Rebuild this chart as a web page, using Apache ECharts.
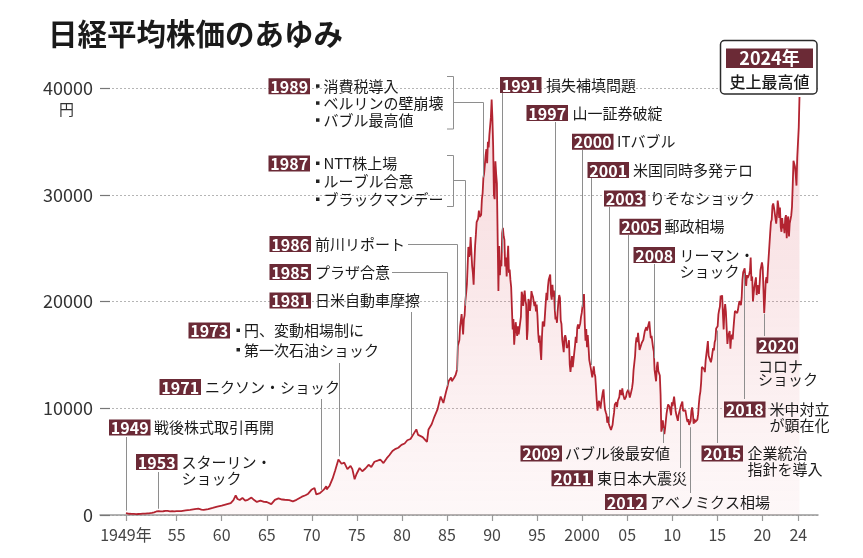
<!DOCTYPE html>
<html><head><meta charset="utf-8">
<script src="https://cdn.jsdelivr.net/npm/echarts@6/dist/echarts.min.js"></script>
<style>html,body{margin:0;padding:0;background:#fff}#c{width:863px;height:558px}</style>
</head><body><div id="c"></div>
<script>
// ---- data ----
const tickYears = [1949.37,1955,1960,1965,1970,1975,1980,1985,1990,1995,2000,2005,2010,2015,2020,2024];
const tickLabels = ['1949年','55','60','65','70','75','80','85','90','95','2000','05','10','15','20','24'];
const yTicks = [0,10000,20000,30000,40000];

const early = [[1949.37,176],[1949.5,140],[1949.75,115],[1950.0,109],[1950.25,100],[1950.5,88],[1950.75,95],[1951.0,101],[1951.25,120],[1951.5,135],[1951.75,160],[1952.0,166],[1952.25,200],[1952.5,250],[1952.75,330],[1953.0,362],[1953.17,474],[1953.25,340],[1953.5,350],[1953.75,380],[1954.0,378],[1954.25,340],[1954.5,350],[1954.75,330],[1955.0,362],[1955.5,370],[1956.0,425],[1956.5,480],[1957.0,550],[1957.4,590],[1957.75,500],[1958.0,475],[1958.5,560],[1959.0,666],[1959.5,780],[1960.0,874],[1960.5,1000],[1961.0,1117],[1961.3,1400],[1961.55,1829],[1961.75,1500],[1962.0,1400],[1962.3,1600],[1962.6,1350],[1962.9,1420],[1963.3,1634],[1963.6,1400],[1963.9,1225],[1964.3,1350],[1964.7,1230],[1965.0,1216],[1965.5,1020],[1965.9,1417],[1966.3,1560],[1966.7,1450],[1967.0,1430],[1967.5,1400],[1967.9,1283],[1968.3,1420],[1968.9,1714],[1969.3,1850],[1969.6,2000],[1969.95,2358],[1970.3,2534],[1970.5,1930],[1970.9,2050],[1971.3,2350],[1971.6,2700],[1971.65,2400],[1971.95,2713],[1972.3,3400],[1972.6,4200],[1972.95,5207],[1973.08,5359],[1973.3,4800],[1973.6,4900],[1973.95,4306],[1974.3,4600],[1974.5,4300],[1974.75,3355],[1974.95,3817],[1975.3,4400],[1975.6,4100],[1975.95,4358],[1976.3,4700],[1976.6,4500],[1976.95,4990],[1977.3,5100],[1977.6,5200],[1977.95,4865],[1978.3,5300],[1978.6,5600],[1978.95,6001],[1979.3,6200],[1979.6,6300],[1979.95,6569],[1980.3,6700],[1980.6,7000],[1980.95,7116],[1981.3,7600],[1981.6,8019],[1981.8,7500],[1981.95,7681],[1982.3,7300],[1982.78,6849],[1982.95,8016],[1983.3,8500],[1983.6,9200],[1983.95,9893],[1984.3,11100],[1984.6,10500],[1984.9,11542]];

const m1985 = [11992,12321,12580,12426,12758,12882,12536,12620,12700,12853,12712,13113,
13024,13640,15860,15825,16386,17654,17502,18820,17853,16910,18325,18701,
20048,20766,21567,23275,25112,24176,24488,26029,26011,23329,22687,21564,
23622,25242,26260,27434,27417,27769,28519,27924,27924,28112,29578,30159,
31581,31986,32839,33713,34267,32949,34954,34431,35637,35549,37269,38916,
37189,34592,29980,29584,33131,31940,31036,25978,20984,25194,22455,23849,
23293,26409,26900,26111,25790,23291,24121,22336,23916,25222,22687,22984,
22023,21339,19346,17391,18348,15952,15910,18061,17399,16767,17684,16925,
17024,16953,18591,20919,20552,19590,20380,21027,20106,19703,16408,17417,
20229,19997,19112,19725,20974,20644,20449,20629,19564,19990,19077,19723];
const m1995 = [18650,17053,16140,16807,15437,14518,16678,18117,17913,17655,18744,19868,
20813,20125,21407,22041,21956,22531,20693,20167,21556,20467,21020,19361,
18330,18557,18003,19151,20069,20605,20331,18229,17888,16459,16636,15259,
16628,16832,16527,15641,15671,15831,16379,14108,13406,13565,14884,13842,
14500,14368,15837,16702,16112,17530,17862,17437,17605,17943,18558,18934,
19540,19960,20700,17974,16332,17411,15728,16861,15747,14540,14649,13786,
13844,12884,12999,13934,13262,12969,11861,10714,9775,10367,10697,10543,
9998,10588,11025,11493,11764,10622,9878,9619,9383,8640,9216,8579,
8340,8363,7973,7831,8425,9083,9563,10344,10219,10560,10101,10677,
10784,11042,11715,11762,11236,11858,11326,11082,10824,10771,11073,11489];
const m2005 = [11388,11741,11669,11009,11277,11584,11900,12413,13574,13607,14872,16111,
16650,16205,17060,16906,15467,15505,15457,16141,16128,16399,16274,17226,
17383,17604,17288,17400,17876,18138,17249,16569,16786,16738,15681,15308,
13592,13603,12526,13850,14339,13481,13377,13073,11260,7800,8500,8860,
7994,7568,8110,8828,9523,9958,10357,10493,10133,10035,9346,10546,
10198,10126,11090,11057,9769,9383,9537,8824,9369,9202,9937,10229,
10238,10624,9755,9850,9694,9816,9833,8955,8700,8988,8435,8455,
8803,9723,10084,9521,8543,9007,8695,8840,8870,8928,9446,10395,
11139,11559,12398,13861,13775,13677,13668,13389,14456,14328,15662,16291,
14915,14841,14828,14304,14632,15162,15621,15425,16174,16414,17460,17451];
const m2015 = [17674,18798,19207,19520,20563,20236,20585,18890,17388,19083,19747,19034,
17518,16027,16759,16666,17235,15576,16569,16887,16450,17425,18308,19114,
19041,19119,18909,19197,19651,20033,19925,19646,20356,22012,22725,22765,
23098,22068,21454,22468,22202,22305,22554,22865,24120,21920,22351,20015,
20773,21385,21206,22259,20601,21276,21522,20704,21756,22927,23294,23657,
23205,21143,18917,20194,21878,22288,21710,23140,23185,22977,26434,27444,
27663,28966,29179,28813,28860,28792,27284,28090,29453,28893,27822,28792,
27002,26527,27821,26848,27280,26393,27802,28092,25937,27587,27969,26095,
27327,27446,28041,28856,30888,33189,33172,32619,31858,30859,33487,33464,
36287,39166];

// ---- build series ----
function monthly(start, vals){ return vals.map((v,i)=>[start+(i+0.5)/12, v]); }
const seriesData = early.concat(monthly(1985,m1985), monthly(1995,m1995), monthly(2005,m2005), monthly(2015,m2015));

const FONT = '"Noto Sans CJK JP","Noto Sans",sans-serif';
const MAROON = '#6b2a36';
const chart = echarts.init(document.getElementById('c'));
chart.setOption({
  animation:false,
  textStyle:{fontFamily:FONT},
  grid:{left:100,right:45,top:88,bottom:43},
  xAxis:{type:'value',min:1946.49,max:2026.18,
    axisLine:{lineStyle:{color:'#999',width:1.5}},
    axisTick:{customValues:tickYears,length:6,lineStyle:{color:'#999',width:1.2}},
    axisLabel:{customValues:tickYears,margin:12,fontSize:16,color:'#444',fontFamily:FONT,
      formatter:v=>{const i=tickYears.findIndex(t=>Math.abs(t-v)<0.01);return i>=0?tickLabels[i]:'';}},
    splitLine:{show:false}},
  yAxis:{type:'value',min:0,max:40000,interval:10000,
    axisLine:{show:false},
    axisTick:{show:true,inside:true,length:10,lineStyle:{color:'#777',width:1.2}},
    axisLabel:{margin:7,fontSize:18,color:'#333',fontFamily:FONT,customValues:yTicks,formatter:v=>String(v)},
    splitLine:{lineStyle:{type:[2,2],color:'#b5b5b5',width:1}}},
  series:[{type:'line',data:seriesData,showSymbol:false,symbol:'none',silent:true,
    lineStyle:{color:'#b32431',width:1.8},
    areaStyle:{color:{type:'linear',x:0,y:0,x2:0,y2:1,colorStops:[
      {offset:0,color:'rgba(214,80,92,0.32)'},{offset:1,color:'rgba(228,120,130,0.08)'}]}}}]
});

// ---- annotations (layout) ----
function valueAt(yr){
  for(let i=1;i<seriesData.length;i++){
    const a=seriesData[i-1],b=seriesData[i];
    if(yr<=b[0]){const t=(yr-a[0])/(b[0]-a[0]);return a[1]+t*(b[1]-a[1]);}
  }
  return seriesData[seriesData.length-1][1];
}
const toPx = (yr,v)=>chart.convertToPixel({xAxisIndex:0,yAxisIndex:0},[yr,v]);

const notes = [
 {y:'1949',t:['戦後株式取引再開'],bx:109,cy:427.5,tx:154,lead:{yr:1949.37,from:437}},
 {y:'1953',t:['スターリン・','ショック'],bx:136,cy:462,tx:181.5,dy:16.5,lead:{yr:1952.9,from:472}},
 {y:'1971',t:['ニクソン・ショック'],bx:159.5,cy:387,tx:205,lead:{yr:1971.0,from:399}},
 {y:'1973',t:['円、変動相場制に','第一次石油ショック'],bullet:true,bx:188.5,cy:330.5,tx:236.5,dy:19.5,lead:{yr:1973.0,from:363}},
 {y:'1981',t:['日米自動車摩擦'],bx:269.5,cy:300.5,tx:315,lead:{yr:1981.0,from:312}},
 {y:'1985',t:['プラザ合意'],bx:269.5,cy:272,tx:315,lead:{yr:1985.0,hx:392,hy:272}},
 {y:'1986',t:['前川リポート'],bx:269.5,cy:244,tx:315,lead:{yr:1986.08,hx:408,hy:244}},
 {y:'1987',t:['NTT株上場','ルーブル合意','ブラックマンデー'],bullet:true,bx:268.5,cy:163.5,tx:316,dy:18,bracket:[155,206],lead:{yr:1987.0,hx:453,hy:180}},
 {y:'1989',t:['消費税導入','ベルリンの壁崩壊','バブル最高値'],bullet:true,bx:268.5,cy:86.3,tx:316,dy:17,bracket:[76,128.5],lead:{yr:1989.03,hx:453,hy:102}},
 {y:'1991',t:['損失補填問題'],bx:500,cy:85,tx:546,lead:{yr:1991.07,from:93}},
 {y:'1997',t:['山一証券破綻'],bx:526.5,cy:113,tx:572.5,lead:{yr:1997.0,from:122}},
 {y:'2000',t:['ITバブル'],bx:572,cy:141.7,tx:617,lead:{yr:2000.0,from:150}},
 {y:'2001',t:['米国同時多発テロ'],bx:587.5,cy:170,tx:633,lead:{yr:2001.0,from:178}},
 {y:'2003',t:['りそなショック'],bx:604,cy:198.5,tx:650,lead:{yr:2003.0,from:207}},
 {y:'2005',t:['郵政相場'],bx:619.5,cy:226.7,tx:664.5,lead:{yr:2005.05,from:235}},
 {y:'2008',t:['リーマン・','ショック'],bx:633.5,cy:255,tx:679.5,dy:16.7,lead:{yr:2008.0,from:264}},
 {y:'2009',t:['バブル後最安値'],bx:520.5,cy:453.5,tx:565,lead:{yr:2009.0,below:true,to:443}},
 {y:'2011',t:['東日本大震災'],bx:551.5,cy:478.3,tx:597,lead:{yr:2010.9,below:true,to:468}},
 {y:'2012',t:['アベノミクス相場'],bx:605,cy:502,tx:650,lead:{yr:2011.97,below:true,to:493}},
 {y:'2015',t:['企業統治','指針を導入'],bx:701.5,cy:453.5,tx:747.5,dy:16,lead:{yr:2015.0,below:true,to:443}},
 {y:'2018',t:['米中対立','が顕在化'],bx:724,cy:409.5,tx:769.5,dy:15.5,lead:{yr:2018.0,below:true,to:399}},
 {y:'2020',t:['コロナ','ショック'],bx:756.5,cy:345.5,tx:758,ty:366,dy:13.5,lead:{yr:2020.2,below:true,to:336}}
];

const G = [];
const LEAD = '#8e8e8e';
function txt(text,x,y,font,fill,align){
  G.push({type:'text',silent:true,z:10,style:{text,x,y,font,fill,textAlign:align||'left',align:align||'left',textVerticalAlign:'middle',verticalAlign:'middle'}});
}
function poly(points){G.push({type:'polyline',silent:true,z:5,shape:{points},style:{stroke:LEAD,lineWidth:1,fill:null}});}
const crisp = x=>Math.round(x)+0.5;

notes.forEach(n=>{
  G.push({type:'rect',silent:true,z:9,shape:{x:n.bx,y:n.cy-8,width:41.5,height:16},style:{fill:MAROON}});
  txt(n.y,n.bx+20.75,n.cy+0.5,'bold 16px '+FONT,'#fff','center');
  const dy=n.dy||17; const ty=n.ty||n.cy;
  n.t.forEach((s,i)=>{
    const yy=ty+i*dy;
    if(n.bullet){
      G.push({type:'rect',silent:true,z:9,shape:{x:n.tx,y:yy-2,width:3.5,height:3.5},style:{fill:'#222'}});
      txt(s,n.tx+7.5,yy,'15px '+FONT,'#1a1a1a');
    } else txt(s,n.tx,yy,'15px '+FONT,'#1a1a1a');
  });
  if(n.bracket){
    const [b1,b2]=n.bracket;
    poly([[447,b1+0.5],[453.5,b1+0.5],[453.5,b2+0.5],[447,b2+0.5]]);
  }
  const L=n.lead;
  const lx=crisp(toPx(L.yr,0)[0]);
  const ly=toPx(L.yr,valueAt(L.yr))[1];
  if(L.below){
    poly([[lx,ly+3],[lx,L.to]]);
  } else if(L.hx!==undefined){
    poly([[L.hx,L.hy+0.5],[lx,L.hy+0.5],[lx,ly-2.5]]);
  } else {
    poly([[lx,L.from],[lx,ly-2.5]]);
  }
});

// title, unit, record-high callout
txt('日経平均株価のあゆみ',48,34,'bold 29.5px '+FONT,'#1a1a1a');
txt('円',66.5,109,'15px '+FONT,'#333','center');
G.push({type:'rect',silent:true,z:8,shape:{x:720.5,y:40.5,width:96.5,height:53.5,r:4},style:{fill:'#fff',stroke:'#2a2a2a',lineWidth:1.5}});
G.push({type:'rect',silent:true,z:9,shape:{x:726,y:48.5,width:87,height:19.5},style:{fill:MAROON}});
txt('2024年',769.5,58.5,'bold 18px '+FONT,'#fff','center');
txt('史上最高値',769.5,81.5,'500 16px '+FONT,'#1a1a1a','center');

chart.setOption({graphic:G});
</script></body></html>
